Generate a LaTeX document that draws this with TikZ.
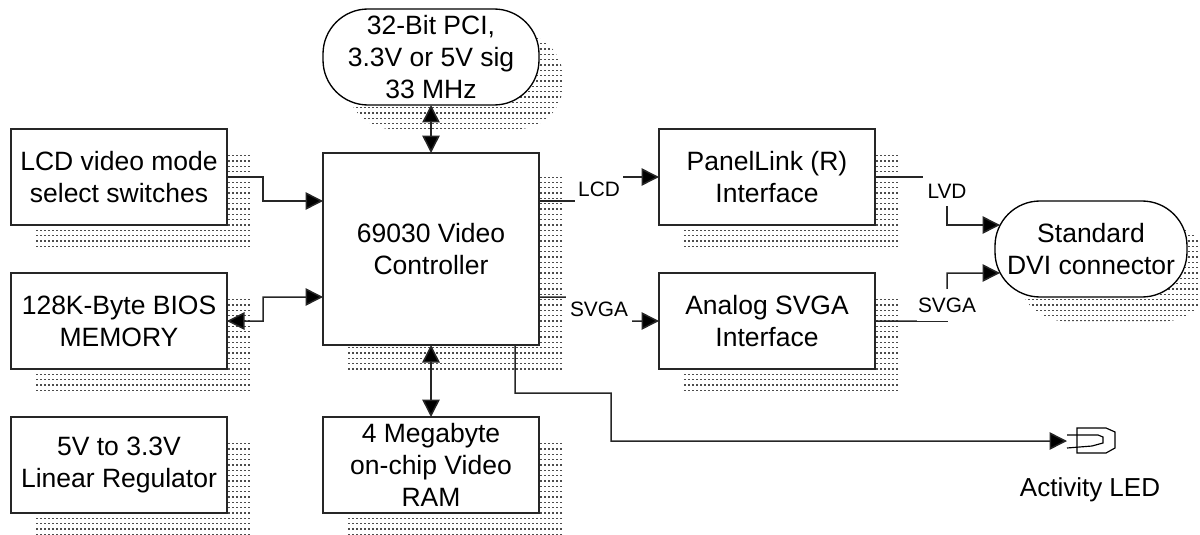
\documentclass[tikz,border=0pt]{standalone}
\usepackage{fontspec}
\setmainfont{Liberation Sans}
\usepackage{tikz}
\usetikzlibrary{arrows.meta,positioning,shadows,patterns}
\pgfdeclarepatternformonly{stipple}{\pgfqpoint{0pt}{0pt}}{\pgfqpoint{1.3pt}{0.8pt}}{\pgfqpoint{2.4pt}{3.2pt}}{%
  \pgfpathrectangle{\pgfqpoint{0pt}{0pt}}{\pgfqpoint{1.3pt}{0.8pt}}\pgfusepath{fill}}

\begin{document}
\begin{tikzpicture}[
  stippled/.style={general shadow={shadow xshift=14.4pt, shadow yshift=-14.4pt, pattern=stipple, pattern color=black!70}},
  blockbox/.style={rectangle, draw=black!85, line width=0.9pt, fill=white, stippled, minimum width=129.6pt, minimum height=57.6pt, inner sep=0pt, outer sep=0pt, align=center, font=\fontsize{15.9}{19.2}\selectfont},
  pillbox/.style={blockbox, rounded corners=27pt, line width=0.8pt, draw=black},
  link/.style={draw=black!85, line width=0.9pt},
  linkto/.style={link, -{Triangle[length=10.5pt,width=10.5pt,fill=black]}},
  linkboth/.style={link, {Triangle[length=10.5pt,width=10.5pt,fill=black]}-{Triangle[length=10.5pt,width=10.5pt,fill=black]}},
  wirelabel/.style={fill=white, inner sep=0pt, outer sep=0pt, font=\fontsize{12.5}{14}\selectfont}
]
\useasboundingbox (0,0) rectangle (720pt,-321pt);
\node[blockbox, minimum height=115.2pt] (ctrl) at (258.6pt,-149.4pt) {69030 Video\\Controller};
\node[blockbox, left=57.6pt of ctrl, yshift=43.2pt] (switches) {LCD video mode\\select switches};
\node[blockbox, below=28.8pt of switches] (bios) {128K-Byte BIOS\\MEMORY};
\node[blockbox, below=28.8pt of bios] (reg) {5V to 3.3V\\Linear Regulator};
\node[blockbox, below=43.2pt of ctrl] (ram) {4 Megabyte\\on-chip Video\\RAM};
\node[pillbox, above=28.8pt of ctrl] (pci) {32-Bit PCI,\\3.3V or 5V sig\\33 MHz};
\node[blockbox, right=72pt of ctrl, yshift=43.2pt] (panel) {PanelLink (R)\\Interface};
\node[blockbox, below=28.8pt of panel] (analog) {Analog SVGA\\Interface};
\node[pillbox, minimum width=115.2pt, right=72pt of panel, yshift=-43.2pt] (dvi) {Standard\\DVI connector};
\coordinate (led) at (640.2pt,-264.6pt);
\coordinate (lvdin) at ([xshift=3pt,yshift=14.4pt]dvi.west);
\coordinate (svgain) at ([xshift=3pt,yshift=-14.4pt]dvi.west);
\node[below=18.4pt of led, xshift=13.8pt, font=\fontsize{15.6}{18}\selectfont] (ledtext) {Activity LED};
\draw[linkboth] (pci) -- (ctrl);
\draw[linkboth] (ctrl) -- (ram);
\draw[linkto] (switches.east) -- ++(21.6pt,0) -- ++(0,-14.4pt) -- ([yshift=28.8pt]ctrl.west);
\draw[linkboth] (bios.east) -- ++(21.6pt,0) -- ++(0,14.4pt) -- ([yshift=-28.8pt]ctrl.west);
\draw[linkto] ([yshift=28.8pt]ctrl.east) -- ++(36pt,0) -- node[wirelabel, minimum width=28.8pt, minimum height=15.6pt] (lcdlabel) {LCD} ++(0,14.4pt) -- (panel.west);
\draw[linkto] ([yshift=-28.8pt]ctrl.east) -- ++(36pt,0) -- node[wirelabel, minimum width=39.6pt, minimum height=15.6pt] (svgalabel) {SVGA} ++(0,-14.4pt) -- (analog.west);
\draw[linkto] (panel.east) -- ++(43.2pt,0) -- node[pos=.29, wirelabel, minimum width=28.8pt, minimum height=18.6pt] (lvdlabel) {LVD} ++(0,-28.8pt) -- (lvdin);
\draw[linkto] (analog.east) -- ++(43.2pt,0) -- node[pos=.33, wirelabel, minimum width=36pt, minimum height=19pt] (svgaout) {SVGA} ++(0,28.8pt) -- (svgain);
\draw[linkto] ([xshift=-14.4pt]ctrl.south east) -- ++(0,-28.8pt) -- ++(57.6pt,0) -- ++(0,-28.8pt) -- (led);
\begin{scope}[shift={(led)}, x=0.6pt, y=-0.6pt, line width=0.7pt]
\draw (10,-13) -- (39,-13) -- (48,-9) -- (48,7) -- (39,12) -- (10,12) -- cycle;
\draw (0,-6) -- (31,-6) -- (36,-4) -- (36,2) -- (25,5) -- (0,7);
\end{scope}
\end{tikzpicture}
\end{document}
